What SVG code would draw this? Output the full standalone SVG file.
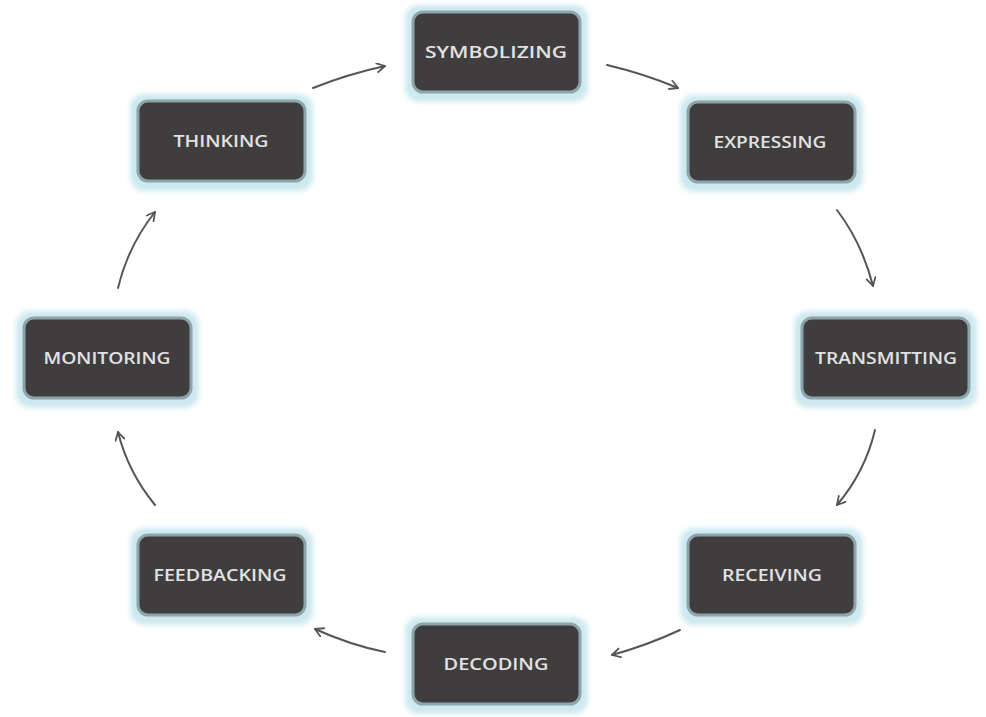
<svg xmlns="http://www.w3.org/2000/svg" width="986" height="717" viewBox="0 0 986 717">
<defs>
<filter id="glow" x="-20%" y="-30%" width="140%" height="160%">
<feGaussianBlur stdDeviation="2.5"/>
</filter>
<marker id="ah" markerWidth="12" markerHeight="12" refX="9" refY="5" orient="auto" markerUnits="userSpaceOnUse">
<path d="M1,0.5 L9,5 L1,9.5" fill="none" stroke="#555" stroke-width="1.8" stroke-linecap="round" stroke-linejoin="round"/>
</marker>
</defs>
<style>
.glow{fill:#cde9ef;filter:url(#glow)}
.box{fill:#3f3d3d;stroke:#8ea4a9;stroke-width:3}
.lbl{font-family:"Open Sans","Liberation Sans",sans-serif;font-weight:600;font-size:16px;fill:#e2e2e2;text-anchor:middle}
.c{fill:none;stroke:#555;stroke-width:2;stroke-linecap:round;marker-end:url(#ah)}
</style>
<rect width="986" height="717" fill="#ffffff"/>
<g id="connectors">
<path class="c" d="M313,88 Q348,74 385,66"/>
<path class="c" d="M607,65 Q645,74 678,88"/>
<path class="c" d="M837,210 Q862,243 873,286"/>
<path class="c" d="M875,430 Q865,472 837,505"/>
<path class="c" d="M680,630 Q648,645 612,655"/>
<path class="c" d="M385,652 Q350,645 315,629"/>
<path class="c" d="M155,505 Q128,472 118,432"/>
<path class="c" d="M118,288 Q128,246 155,212"/>
</g>
<g id="symbolizing">
<rect class="glow" x="405" y="5" width="183" height="97" rx="14"/>
<rect class="box" x="413" y="12" width="167" height="80" rx="10"/>
<text class="lbl" x="496" y="58" textLength="142" lengthAdjust="spacingAndGlyphs">SYMBOLIZING</text>
</g>
<g id="thinking">
<rect class="glow" x="130" y="94" width="183" height="97" rx="14"/>
<rect class="box" x="138" y="101" width="167" height="80" rx="10"/>
<text class="lbl" x="221" y="147" textLength="95" lengthAdjust="spacingAndGlyphs">THINKING</text>
</g>
<g id="expressing">
<rect class="glow" x="680" y="95" width="183" height="97" rx="14"/>
<rect class="box" x="688" y="102" width="167" height="80" rx="10"/>
<text class="lbl" x="770" y="148" textLength="113" lengthAdjust="spacingAndGlyphs">EXPRESSING</text>
</g>
<g id="transmitting">
<rect class="glow" x="794" y="311" width="183" height="97" rx="14"/>
<rect class="box" x="802" y="318" width="167" height="80" rx="10"/>
<text class="lbl" x="886" y="364" textLength="142" lengthAdjust="spacingAndGlyphs">TRANSMITTING</text>
</g>
<g id="receiving">
<rect class="glow" x="680" y="528" width="183" height="97" rx="14"/>
<rect class="box" x="688" y="535" width="167" height="80" rx="10"/>
<text class="lbl" x="772" y="581" textLength="100" lengthAdjust="spacingAndGlyphs">RECEIVING</text>
</g>
<g id="decoding">
<rect class="glow" x="405" y="617" width="183" height="97" rx="14"/>
<rect class="box" x="413" y="624" width="167" height="80" rx="10"/>
<text class="lbl" x="496" y="670" textLength="105" lengthAdjust="spacingAndGlyphs">DECODING</text>
</g>
<g id="feedbacking">
<rect class="glow" x="130" y="528" width="183" height="97" rx="14"/>
<rect class="box" x="138" y="535" width="167" height="80" rx="10"/>
<text class="lbl" x="220" y="581" textLength="133" lengthAdjust="spacingAndGlyphs">FEEDBACKING</text>
</g>
<g id="monitoring">
<rect class="glow" x="16" y="311" width="183" height="97" rx="14"/>
<rect class="box" x="24" y="318" width="167" height="80" rx="10"/>
<text class="lbl" x="107" y="364" textLength="127" lengthAdjust="spacingAndGlyphs">MONITORING</text>
</g>
</svg>
